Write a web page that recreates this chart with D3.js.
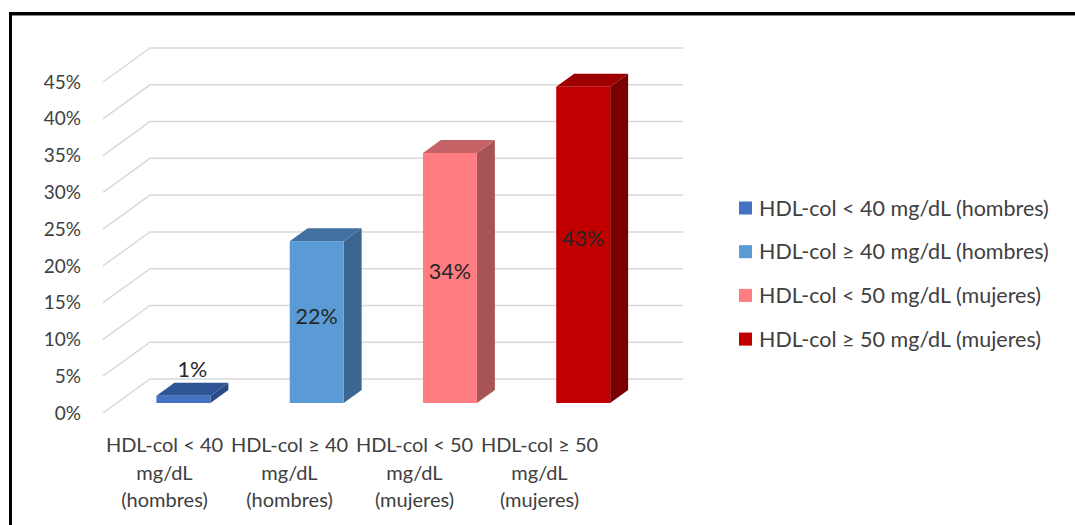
<!DOCTYPE html>
<html>
<head>
<meta charset="utf-8">
<script src="https://cdn.jsdelivr.net/npm/d3@7"></script>
<style>
  html, body { margin: 0; padding: 0; background: #fff; }
  svg { display: block; }
  text { font-family: Lato, "Open Sans", sans-serif; }
</style>
</head>
<body>
<svg id="chart" width="1075" height="525"></svg>
<script>
// Share of subjects by HDL-cholesterol group
const categories = [
  "HDL-col < 40 mg/dL (hombres)",
  "HDL-col ≥ 40 mg/dL (hombres)",
  "HDL-col < 50 mg/dL (mujeres)",
  "HDL-col ≥ 50 mg/dL (mujeres)"
];
const axisLabelLines = [
  ["HDL-col < 40", "mg/dL", "(hombres)"],
  ["HDL-col ≥ 40", "mg/dL", "(hombres)"],
  ["HDL-col < 50", "mg/dL", "(mujeres)"],
  ["HDL-col ≥ 50", "mg/dL", "(mujeres)"]
];
const values = [1, 22, 34, 43];
const yTicks = [0, 5, 10, 15, 20, 25, 30, 35, 40, 45];

// face colours per series: front, top, side
const frontColors = ["#4472C4", "#5B9BD5", "#FF7C80", "#C00000"];
const topColors   = ["#2F5597", "#41719F", "#C46265", "#9E0000"];
const sideColors  = ["#294B86", "#3A6690", "#A85356", "#780000"];

const svg = d3.select("#chart");

// frame
svg.append("rect")
  .attr("x", 10.5).attr("y", 13.5)
  .attr("width", 1200).attr("height", 600)
  .attr("fill", "none").attr("stroke", "#000").attr("stroke-width", 3);
svg.append("line")
  .attr("x1", 12).attr("x2", 1075).attr("y1", 15.5).attr("y2", 15.5)
  .attr("stroke", "#888").attr("stroke-width", 1);

// 3D projection: full floor depth offset
const depthDX = 47, depthDY = -34;
const barZ0 = 0.294, barZ1 = 0.676;   // bar front / back planes (fraction of depth)

// front-plane scales
const x = d3.scaleBand().domain(categories).range([103, 636])
  .paddingInner(0.595).paddingOuter(0.2975);
const y = d3.scaleLinear().domain([0, 45]).range([413, 82]);
const xLabel = d3.scaleBand().domain(categories).range([102, 602]);

// gridlines: diagonal on the side wall + horizontal on the back wall
const grid = svg.append("g").attr("stroke", "#D9D9D9").attr("stroke-width", 1.5).attr("fill", "none");
yTicks.forEach(t => {
  const fx = x.range()[0], fy = y(t);
  grid.append("path")
    .attr("d", `M${fx},${fy}L${fx + depthDX},${fy + depthDY}L${x.range()[1] + depthDX},${fy + depthDY}`);
});

// y tick labels
svg.append("g").selectAll("text").data(yTicks).join("text")
  .attr("x", 81).attr("y", d => y(d)).attr("dy", "0.35em")
  .attr("text-anchor", "end").attr("font-size", 19).attr("fill", "#404040")
  .text(d => d + "%");

// bars
const ox0 = depthDX * barZ0, oy0 = depthDY * barZ0;
const bdx = depthDX * (barZ1 - barZ0), bdy = depthDY * (barZ1 - barZ0);
const bars = svg.append("g");
categories.forEach((c, i) => {
  const x0 = x(c) + ox0, w = x.bandwidth();
  const yt = y(values[i]) + oy0, yb = y(0) + oy0;
  const g = bars.append("g");
  g.append("path").attr("fill", sideColors[i])
    .attr("d", `M${x0 + w},${yt}L${x0 + w + bdx},${yt + bdy}L${x0 + w + bdx},${yb + bdy}L${x0 + w},${yb}Z`);
  g.append("path").attr("fill", topColors[i])
    .attr("d", `M${x0},${yt}L${x0 + w},${yt}L${x0 + w + bdx},${yt + bdy}L${x0 + bdx},${yt + bdy}Z`);
  g.append("rect").attr("fill", frontColors[i])
    .attr("x", x0).attr("y", yt).attr("width", w).attr("height", yb - yt);

  // value labels
  const inside = values[i] > 5;
  g.append("text")
    .attr("x", inside ? x0 + w / 2 : x0 + w / 2 + bdx / 2)
    .attr("y", inside ? (yt + yb) / 2 - 6 : yt + bdy - 6)
    .attr("dy", inside ? "0.35em" : "0")
    .attr("text-anchor", "middle").attr("font-size", 21.5).attr("fill", "#262626")
    .text(values[i] + "%");
});

// category labels
const cat = svg.append("g");
categories.forEach((c, i) => {
  axisLabelLines[i].forEach((line, k) => {
    cat.append("text")
      .attr("x", xLabel(c) + xLabel.bandwidth() / 2)
      .attr("y", 445 + k * 27.5).attr("dy", "0.35em")
      .attr("text-anchor", "middle").attr("font-size", 20).attr("fill", "#404040")
      .text(line);
  });
});

// legend
const legend = svg.append("g");
categories.forEach((c, i) => {
  const cy = 208 + i * 43.7;
  legend.append("rect").attr("x", 739).attr("y", cy - 6.5).attr("width", 13).attr("height", 13)
    .attr("fill", frontColors[i]);
  legend.append("text").attr("x", 759).attr("y", cy).attr("dy", "0.35em")
    .attr("font-size", 21.5).attr("fill", "#404040").text(c);
});
</script>
</body>
</html>
